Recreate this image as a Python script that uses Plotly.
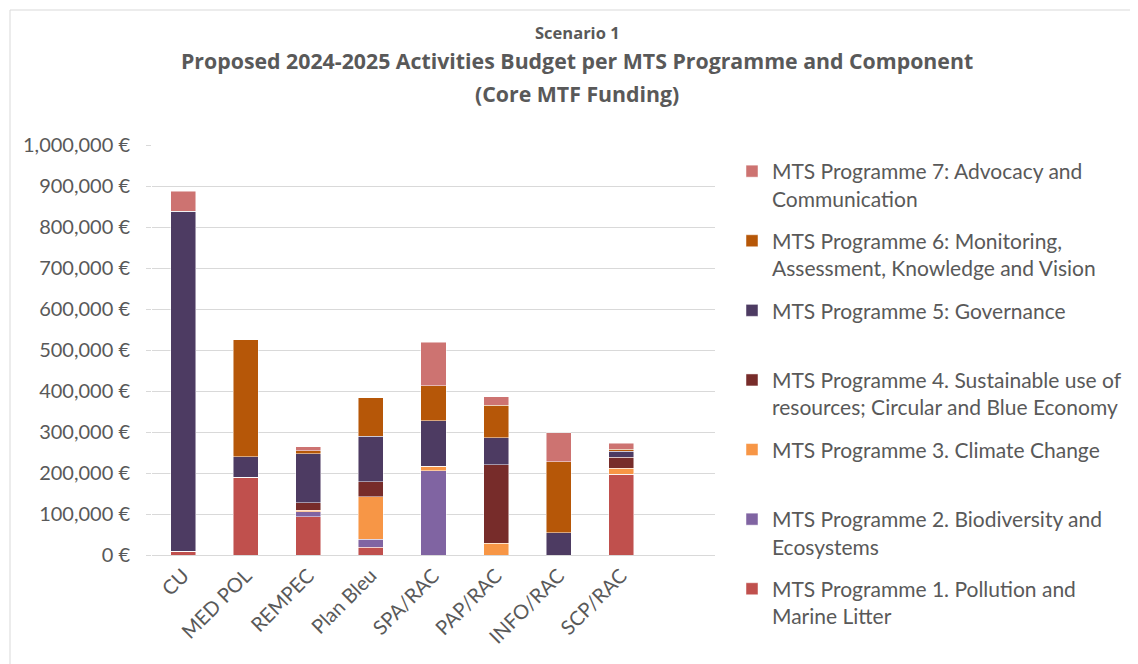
import plotly.graph_objects as go

categories = ["CU", "MED POL", "REMPEC", "Plan Bleu", "SPA/RAC", "PAP/RAC", "INFO/RAC", "SCP/RAC", " "]

p1 = [9000, 190000, 93500, 19000, 0, 0, 0, 197000, 0]
p2 = [0, 0, 12000, 19000, 206000, 0, 0, 0, 0]
p3 = [0, 0, 4000, 104000, 11000, 29000, 0, 14000, 0]
p4 = [0, 0, 18000, 37000, 0, 191000, 0, 27000, 0]
p5 = [829000, 50000, 120000, 111000, 111000, 66000, 54000, 15000, 0]
p6 = [0, 285000, 7000, 94000, 85000, 79000, 174000, 5000, 0]
p7 = [49000, 0, 10000, 0, 106000, 21000, 70000, 15000, 0]

series_names = [
    "MTS Programme 1. Pollution and<br>Marine Litter",
    "MTS Programme 2. Biodiversity and<br>Ecosystems",
    "MTS Programme 3. Climate Change<br> ",
    "MTS Programme 4. Sustainable use of<br>resources; Circular and Blue Economy",
    "MTS Programme 5: Governance<br> ",
    "MTS Programme 6: Monitoring,<br>Assessment, Knowledge and Vision",
    "MTS Programme 7: Advocacy and<br>Communication",
]
series_values = [p1, p2, p3, p4, p5, p6, p7]
series_colors = ["#C0504D", "#8064A2", "#F79646", "#772C2A", "#4D3B62", "#B65708", "#CD7371"]

y_tickvals = [0, 100000, 200000, 300000, 400000, 500000, 600000, 700000, 800000, 900000, 1000000]
y_ticktext = ["0 €", "100,000 €", "200,000 €", "300,000 €", "400,000 €", "500,000 €",
              "600,000 €", "700,000 €", "800,000 €", "900,000 €", "1,000,000 €"]

FONT = "Lato, 'Open Sans', sans-serif"
TFONT = "'Open Sans', Lato, sans-serif"
TXT = "#595959"

fig = go.Figure()
n = len(series_names)
for i, (name, vals, col) in enumerate(zip(series_names, series_values, series_colors)):
    fig.add_trace(go.Bar(
        x=categories, y=vals, name=name, marker_color=col,
        marker_line=dict(color="rgba(255,255,255,0.6)", width=0.8),
        width=0.4, legendgroup=f"g{i}", legendrank=n - i,
    ))

OFF = 8  # page body margin
W, H = 1138 - OFF, 664 - OFF
L, R, T, B = 152, 715, 145, 555  # screen coords of plot area
pw, ph = R - L, B - T

def px_x(x):
    return (x - L) / pw

def px_y(y):
    return (B - y) / ph

fig.update_layout(
    width=W, height=H,
    barmode="stack",
    plot_bgcolor="white", paper_bgcolor="white",
    margin=dict(l=L - OFF, r=W - (R - OFF), t=T - OFF, b=H - (B - OFF), autoexpand=False),
    font=dict(family=FONT, color=TXT, size=18),
    showlegend=True,
    legend=dict(
        traceorder="grouped",
        x=px_x(732), y=px_y(151), xanchor="left", yanchor="top",
        font=dict(size=21, color=TXT, family=FONT),
        tracegroupgap=12,
        itemwidth=30,
        valign="top",
        maxheight=640,
        bgcolor="rgba(0,0,0,0)",
    ),
    xaxis=dict(
        type="category", range=[-0.5, 8.5],
        tickangle=-45, showgrid=False, showline=True,
        linecolor="#D9D9D9", linewidth=1.3, ticks="",
        tickfont=dict(size=20, color=TXT, family=FONT),
    ),
    yaxis=dict(
        range=[0, 1000000], tickvals=y_tickvals, ticktext=y_ticktext,
        showgrid=True, gridcolor="#D9D9D9", gridwidth=1.3,
        zeroline=False, showline=False,
        ticks="outside", ticklen=5, tickcolor="#D9D9D9", tickwidth=1.3,
        ticklabelstandoff=12,
        tickfont=dict(size=20, color=TXT, family=FONT),
    ),
)

cx = px_x(577)
fig.add_annotation(text="<b>Scenario 1</b>", x=cx, y=px_y(33), xref="paper", yref="paper",
                   xanchor="center", yanchor="middle",
                   showarrow=False, font=dict(size=16.5, color=TXT, family=TFONT))
fig.add_annotation(text="<b>Proposed 2024-2025 Activities Budget per MTS Programme and Component</b>",
                   x=cx, y=px_y(60), xref="paper", yref="paper",
                   xanchor="center", yanchor="middle",
                   showarrow=False, font=dict(size=21.3, color=TXT, family=TFONT))
fig.add_annotation(text="<b>(Core MTF Funding)</b>", x=cx, y=px_y(93), xref="paper", yref="paper",
                   xanchor="center", yanchor="middle",
                   showarrow=False, font=dict(size=21.3, color=TXT, family=TFONT))

fig.add_shape(type="rect", xref="paper", yref="paper",
              x0=px_x(10), x1=px_x(1170), y0=px_y(700), y1=px_y(10),
              line=dict(color="#D9D9D9", width=1), fillcolor="rgba(0,0,0,0)", layer="below")

fig.write_html("out.html")
